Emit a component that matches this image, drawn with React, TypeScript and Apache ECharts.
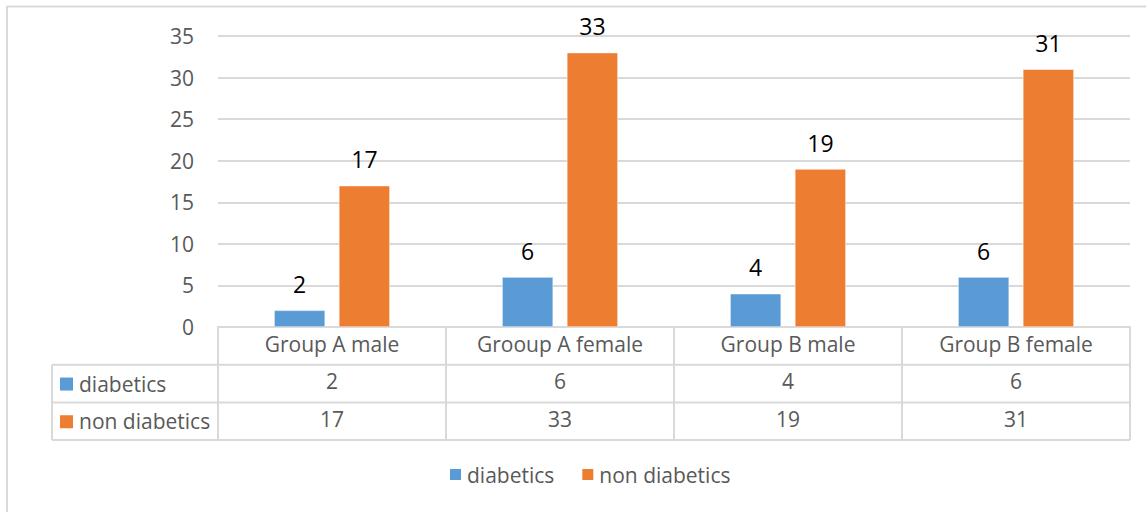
import React, { useEffect, useRef } from "react";
import * as echarts from "echarts";

const categories = ["Group A male", "Grooup A female", "Group B male", "Group B female"];
const diabetics = [2, 6, 4, 6];
const nonDiabetics = [17, 33, 19, 31];
const seriesNames = ["diabetics", "non diabetics"];
const colors = ["#5b9bd5", "#ed7d31"];

const W = 1146;
const H = 512;
const GRID_LEFT = 218;
const GRID_RIGHT = 1130;
const GRID_TOP = 36;
const GRID_BOTTOM = 327;
const ROW_H = 37.7;
const TABLE_LEFT = 52;
const LINE = "#d9d9d9";
const TEXT = "#595959";
const FONT = "'Open Sans', 'Noto Sans', sans-serif";
const FS = 21;

export default function App() {
  const ref = useRef<HTMLDivElement>(null);

  useEffect(() => {
    document.body.style.margin = "0";
    const chart = echarts.init(ref.current!, null, { renderer: "svg" });

    const row1 = GRID_BOTTOM + ROW_H;
    const row2 = GRID_BOTTOM + 2 * ROW_H;
    const row3 = GRID_BOTTOM + 3 * ROW_H;

    const tableGraphics: any[] = [
      // chart frame (top + left edges)
      { type: "line", shape: { x1: 7, y1: 6.5, x2: W, y2: 6.5 }, style: { stroke: LINE, lineWidth: 2 } },
      { type: "line", shape: { x1: 7, y1: 6, x2: 7, y2: H }, style: { stroke: LINE, lineWidth: 2 } },
      // table horizontal rules
      ...[row1, row2, row3].map((y) => ({
        type: "line",
        shape: { x1: TABLE_LEFT, y1: y, x2: GRID_RIGHT, y2: y },
        style: { stroke: LINE, lineWidth: 2 },
      })),
      // table left edge
      { type: "line", shape: { x1: TABLE_LEFT, y1: row1, x2: TABLE_LEFT, y2: row3 }, style: { stroke: LINE, lineWidth: 2 } },
      // row headers with legend keys
      ...seriesNames.flatMap((name, i) => {
        const cy = row1 + ROW_H * (i + 0.5);
        return [
          { type: "rect", shape: { x: 60, y: cy - 6, width: 13, height: 13 }, style: { fill: colors[i] } },
          {
            type: "text",
            x: 79,
            y: cy,
            style: { text: name, fill: TEXT, font: `${FS}px ${FONT}`, textVerticalAlign: "middle", textAlign: "left" },
          },
        ];
      }),
    ];

    const valueAxis = (values: number[], offset: number) => ({
      type: "category",
      data: categories,
      position: "bottom",
      offset,
      axisLine: { show: false },
      axisTick: { show: false },
      axisLabel: {
        interval: 0,
        color: TEXT,
        fontSize: FS,
        fontFamily: FONT,
        margin: 6,
        formatter: (_v: string, idx: number) => String(values[idx]),
      },
    });

    const barLabel = { show: true, position: "top", distance: 15, color: "#000", fontSize: 23, fontFamily: FONT };

    chart.setOption({
      animation: false,
      grid: {
        left: GRID_LEFT,
        right: W - GRID_RIGHT,
        top: GRID_TOP,
        bottom: H - GRID_BOTTOM,
        containLabel: false,
      },
      legend: {
        bottom: 27,
        left: 448,
        padding: 0,
        icon: "rect",
        itemWidth: 13,
        itemHeight: 13,
        itemGap: 26,
        textStyle: { color: TEXT, fontSize: FS, fontFamily: FONT },
        data: seriesNames,
      },
      xAxis: [
        {
          type: "category",
          data: categories,
          axisLine: { show: true, lineStyle: { color: LINE, width: 2 } },
          axisTick: {
            show: true,
            interval: 0,
            length: 3 * ROW_H,
            lineStyle: { color: LINE, width: 2 },
          },
          axisLabel: { interval: 0, color: TEXT, fontSize: FS, fontFamily: FONT, margin: 6 },
        },
        valueAxis(diabetics, ROW_H),
        valueAxis(nonDiabetics, 2 * ROW_H),
      ],
      yAxis: {
        type: "value",
        min: 0,
        max: 35,
        interval: 5,
        axisLine: { show: false },
        axisTick: { show: false },
        splitLine: { lineStyle: { color: LINE, width: 2 } },
        axisLabel: { color: TEXT, fontSize: FS, fontFamily: FONT, margin: 24 },
      },
      series: [
        {
          name: seriesNames[0],
          type: "bar",
          data: diabetics,
          barWidth: 51,
          barGap: "27%",
          itemStyle: { color: colors[0], borderColor: "#ffffff", borderWidth: 0.5 },
          label: barLabel,
        },
        {
          name: seriesNames[1],
          type: "bar",
          data: nonDiabetics,
          barWidth: 51,
          barGap: "27%",
          itemStyle: { color: colors[1], borderColor: "#ffffff", borderWidth: 0.5 },
          label: barLabel,
        },
      ],
      graphic: tableGraphics,
    });

    return () => chart.dispose();
  }, []);

  return <div ref={ref} style={{ width: W, height: H, background: "#fff" }} />;
}
